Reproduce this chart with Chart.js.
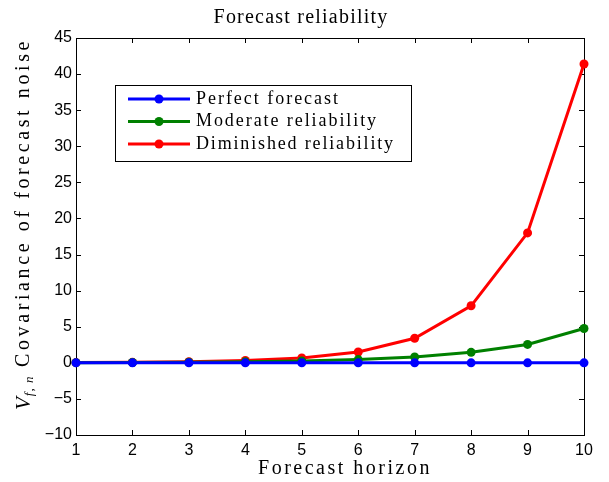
<!DOCTYPE html>
<html><head><meta charset="utf-8">
<script src="https://cdn.jsdelivr.net/npm/chart.js@4.4.1/dist/chart.umd.min.js"></script>
<style>html,body{margin:0;padding:0;background:#fff}#wrap{width:609px;height:482px}</style>
</head><body><div id="wrap"><canvas id="c" width="609" height="482"></canvas></div>
<script>
const horizon = [1,2,3,4,5,6,7,8,9,10];
const perfectForecast = [0,0,0,0,0,0,0,0,0,0];
const moderateReliability = [0.02,0.04,0.08,0.14,0.25,0.45,0.8,1.45,2.55,4.75];
const diminishedReliability = [0.03,0.07,0.15,0.33,0.68,1.5,3.4,7.9,18.0,41.4];
const seriesNames = ['Perfect forecast','Moderate reliability','Diminished reliability'];
const seriesColors = ['#0000ff','#008000','#ff0000'];
const titleText = 'Forecast reliability';
const xTitle = 'Forecast horizon';
const yTitleMain = 'Covariance of forecast noise';

const serif = '"Liberation Serif", "DejaVu Serif", serif';
const sans = '"Liberation Sans", Arial, sans-serif';

function mk(data, i){
  return {label: seriesNames[i], data: horizon.map((x,k)=>({x, y:data[k]})),
    borderColor: seriesColors[i], backgroundColor: seriesColors[i],
    borderWidth: 3, pointRadius: 4.5, pointHoverRadius: 4.5, pointBorderWidth: 0,
    tension: 0, clip: false};
}

// draw text spread to a target width
function spreadText(ctx, text, x, y, width, align){
  ctx.letterSpacing = '0px';
  const w0 = ctx.measureText(text).width;
  const n = text.length;
  const sp = Math.max(0, (width - w0) / n);
  ctx.letterSpacing = sp.toFixed(2) + 'px';
  const w = ctx.measureText(text).width;
  ctx.textAlign = 'left';
  let sx = x;
  if (align === 'center') sx = x - w/2;
  ctx.fillText(text, sx, y);
  return w;
}

const framePlugin = {
  id: 'frame',
  beforeDatasetsDraw(chart){
    const {ctx, chartArea: a, scales:{x, y}} = chart;
    ctx.save();
    ctx.strokeStyle = '#000'; ctx.lineWidth = 1;
    ctx.strokeRect(Math.round(a.left)+0.5, Math.round(a.top)+0.5, Math.round(a.right-a.left), Math.round(a.bottom-a.top));
    const L = 5;
    ctx.beginPath();
    x.ticks.forEach(t=>{ const px = Math.round(x.getPixelForValue(t.value))+0.5;
      ctx.moveTo(px, a.bottom); ctx.lineTo(px, a.bottom-L);
      ctx.moveTo(px, a.top); ctx.lineTo(px, a.top+L); });
    y.ticks.forEach(t=>{ const py = Math.round(y.getPixelForValue(t.value))+0.5;
      ctx.moveTo(a.left, py); ctx.lineTo(a.left+L, py);
      ctx.moveTo(a.right, py); ctx.lineTo(a.right-L, py); });
    ctx.stroke();
    ctx.restore();
  },
  afterDraw(chart){
    const {ctx} = chart;
    ctx.save();
    ctx.fillStyle = '#000';
    ctx.textBaseline = 'middle';
    // title
    ctx.font = '20px ' + serif;
    spreadText(ctx, titleText, 301, 18, 175, 'center');
    // x title
    spreadText(ctx, xTitle, 345, 469, 174, 'center');
    // y title with subscript
    ctx.save();
    ctx.translate(24, 224);
    ctx.rotate(-Math.PI/2);
    ctx.textBaseline = 'middle';
    ctx.letterSpacing = '0px';
    const fV = 'italic 21px ' + serif, fS = 'italic 13px ' + serif, fM = '20px ' + serif;
    ctx.font = fV; const wV = ctx.measureText('V').width + 1;
    ctx.font = fS; ctx.letterSpacing = '1px'; const wS = ctx.measureText('f, n').width;
    const total = 372;
    const wM = total - wV - wS;
    let sx = -total/2;
    ctx.font = fV; ctx.letterSpacing = '0px'; ctx.fillText('V', sx, 0); sx += wV;
    ctx.font = fS; ctx.letterSpacing = '1px'; ctx.fillText('f, n', sx, 6); sx += wS;
    ctx.font = fM; spreadText(ctx, ' ' + yTitleMain, sx, 0, wM, 'left');
    ctx.restore();
    // legend
    const bx = 115, by = 85, bw = 296, bh = 76;
    ctx.letterSpacing = '0px';
    ctx.fillStyle = '#fff'; ctx.fillRect(bx, by, bw, bh);
    ctx.strokeStyle = '#000'; ctx.lineWidth = 1;
    ctx.strokeRect(bx+0.5, by+0.5, bw, bh);
    const legendWidths = [144, 182, 199];
    ctx.font = '18px ' + serif; ctx.textBaseline = 'middle';
    chart.data.datasets.forEach((ds, i)=>{
      const ry = 99 + i*22.5;
      ctx.strokeStyle = ds.borderColor; ctx.lineWidth = 3;
      ctx.beginPath(); ctx.moveTo(128, ry); ctx.lineTo(190, ry); ctx.stroke();
      ctx.fillStyle = ds.backgroundColor;
      ctx.beginPath(); ctx.arc(159, ry, 4.5, 0, Math.PI*2); ctx.fill();
      ctx.fillStyle = '#000';
      spreadText(ctx, ds.label, 196, ry, legendWidths[i], 'left');
    });
    ctx.restore();
  }
};

new Chart(document.getElementById('c'), {
  type: 'line',
  data: { datasets: [mk(perfectForecast,0), mk(moderateReliability,1), mk(diminishedReliability,2)] },
  options: {
    responsive: false, animation: false, devicePixelRatio: 1,
    layout: { padding: { left: 0, right: 25, top: 38, bottom: 0 } },
    plugins: { legend: { display: false }, title: { display: false }, tooltip: { enabled: false } },
    scales: {
      x: { type: 'linear', min: 1, max: 10,
        grid: { display: false, drawTicks: false },
        border: { display: false },
        ticks: { stepSize: 1, color: '#000', font: { family: sans, size: 16 }, padding: 6, autoSkip: false, maxRotation: 0 },
        afterFit(s){ s.height = 47; } },
      y: { min: -10, max: 45,
        grid: { display: false, drawTicks: false },
        border: { display: false },
        ticks: { stepSize: 5, color: '#000', font: { family: sans, size: 16 }, padding: 4,
          callback: v => String(v).replace('-', '\u2212') },
        afterFit(s){ s.width = 76; } }
    }
  },
  plugins: [framePlugin]
});
</script></body></html>
